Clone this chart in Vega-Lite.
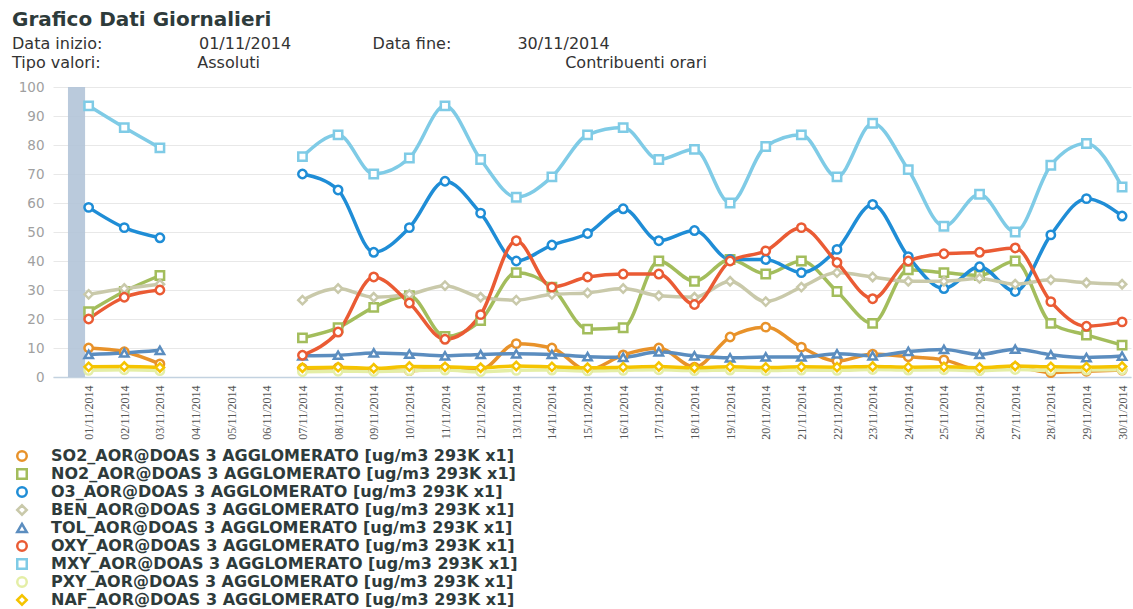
{
"$schema":"https://vega.github.io/schema/vega-lite/v6.json",
"width":1078,"height":290,
"autosize":{"type":"none"},
"padding":{"left":53,"top":87,"right":2,"bottom":232},
"background":"white",
"config":{"view":{"stroke":null}},
"title":{"text":"Grafico Dati Giornalieri",
"subtitle":["Data inizio:\u00a0\u00a0\u00a0\u00a0\u00a0\u00a0\u00a0\u00a0\u00a0\u00a0\u00a0\u00a0\u00a0\u00a0\u00a0\u00a0\u00a0\u00a0\u00a001/11/2014\u00a0\u00a0\u00a0\u00a0\u00a0\u00a0\u00a0\u00a0\u00a0\u00a0\u00a0\u00a0\u00a0\u00a0\u00a0\u00a0Data fine:\u00a0\u00a0\u00a0\u00a0\u00a0\u00a0\u00a0\u00a0\u00a0\u00a0\u00a0\u00a0\u00a030/11/2014","Tipo valori:\u00a0\u00a0\u00a0\u00a0\u00a0\u00a0\u00a0\u00a0\u00a0\u00a0\u00a0\u00a0\u00a0\u00a0\u00a0\u00a0\u00a0\u00a0\u00a0Assoluti\u00a0\u00a0\u00a0\u00a0\u00a0\u00a0\u00a0\u00a0\u00a0\u00a0\u00a0\u00a0\u00a0\u00a0\u00a0\u00a0\u00a0\u00a0\u00a0\u00a0\u00a0\u00a0\u00a0\u00a0\u00a0\u00a0\u00a0\u00a0\u00a0\u00a0\u00a0\u00a0\u00a0\u00a0\u00a0\u00a0\u00a0\u00a0\u00a0\u00a0\u00a0\u00a0\u00a0\u00a0\u00a0\u00a0\u00a0\u00a0\u00a0\u00a0\u00a0\u00a0\u00a0\u00a0\u00a0\u00a0\u00a0\u00a0\u00a0\u00a0Contribuenti orari"],
"anchor":"start","frame":"group","dx":-41,"offset":9,
"font":"DejaVu Sans","fontSize":20,"fontWeight":"bold","color":"#2e3b3b",
"subtitleFont":"DejaVu Sans","subtitleFontSize":16,"subtitleColor":"#333333","subtitlePadding":6,"subtitleLineHeight":19},
"data":{"values":[
{"g":1,"s":"SO2","v":10},{"g":2,"s":"SO2","v":8.7},{"g":3,"s":"SO2","v":4.5},{"g":5,"s":"SO2","v":null},{"g":7,"s":"SO2","v":3},{"g":8,"s":"SO2","v":3.2},{"g":9,"s":"SO2","v":2.4},{"g":10,"s":"SO2","v":2.2},{"g":11,"s":"SO2","v":3},{"g":12,"s":"SO2","v":2.6},{"g":13,"s":"SO2","v":11.5},{"g":14,"s":"SO2","v":10},{"g":15,"s":"SO2","v":2.4},{"g":16,"s":"SO2","v":7.6},{"g":17,"s":"SO2","v":10},{"g":18,"s":"SO2","v":3.4},{"g":19,"s":"SO2","v":13.8},{"g":20,"s":"SO2","v":17.2},{"g":21,"s":"SO2","v":10.3},{"g":22,"s":"SO2","v":5.5},{"g":23,"s":"SO2","v":7.9},{"g":24,"s":"SO2","v":7},{"g":25,"s":"SO2","v":5.9},{"g":26,"s":"SO2","v":2.4},{"g":27,"s":"SO2","v":3.4},{"g":28,"s":"SO2","v":1.5},{"g":29,"s":"SO2","v":2},{"g":30,"s":"SO2","v":2.4},
{"g":1,"s":"NO2","v":22.5},{"g":2,"s":"NO2","v":29.5},{"g":3,"s":"NO2","v":35},{"g":5,"s":"NO2","v":null},{"g":7,"s":"NO2","v":13.5},{"g":8,"s":"NO2","v":17},{"g":9,"s":"NO2","v":24},{"g":10,"s":"NO2","v":28},{"g":11,"s":"NO2","v":14},{"g":12,"s":"NO2","v":19.5},{"g":13,"s":"NO2","v":36},{"g":14,"s":"NO2","v":31},{"g":15,"s":"NO2","v":16.5},{"g":16,"s":"NO2","v":17},{"g":17,"s":"NO2","v":40},{"g":18,"s":"NO2","v":33},{"g":19,"s":"NO2","v":40.5},{"g":20,"s":"NO2","v":35.5},{"g":21,"s":"NO2","v":40},{"g":22,"s":"NO2","v":29.5},{"g":23,"s":"NO2","v":18.5},{"g":24,"s":"NO2","v":37},{"g":25,"s":"NO2","v":36},{"g":26,"s":"NO2","v":35},{"g":27,"s":"NO2","v":40},{"g":28,"s":"NO2","v":18.5},{"g":29,"s":"NO2","v":14.5},{"g":30,"s":"NO2","v":11},
{"g":1,"s":"O3","v":58.5},{"g":2,"s":"O3","v":51.5},{"g":3,"s":"O3","v":48},{"g":5,"s":"O3","v":null},{"g":7,"s":"O3","v":70},{"g":8,"s":"O3","v":64.5},{"g":9,"s":"O3","v":43},{"g":10,"s":"O3","v":51.5},{"g":11,"s":"O3","v":67.5},{"g":12,"s":"O3","v":56.5},{"g":13,"s":"O3","v":40},{"g":14,"s":"O3","v":45.5},{"g":15,"s":"O3","v":49.5},{"g":16,"s":"O3","v":58},{"g":17,"s":"O3","v":47},{"g":18,"s":"O3","v":50.5},{"g":19,"s":"O3","v":40.5},{"g":20,"s":"O3","v":40.5},{"g":21,"s":"O3","v":36},{"g":22,"s":"O3","v":44},{"g":23,"s":"O3","v":59.5},{"g":24,"s":"O3","v":41.5},{"g":25,"s":"O3","v":30.5},{"g":26,"s":"O3","v":38},{"g":27,"s":"O3","v":29.5},{"g":28,"s":"O3","v":49},{"g":29,"s":"O3","v":61.5},{"g":30,"s":"O3","v":55.5},
{"g":1,"s":"BEN","v":28.5},{"g":2,"s":"BEN","v":30.5},{"g":3,"s":"BEN","v":32},{"g":5,"s":"BEN","v":null},{"g":7,"s":"BEN","v":26.5},{"g":8,"s":"BEN","v":30.5},{"g":9,"s":"BEN","v":27.5},{"g":10,"s":"BEN","v":28.5},{"g":11,"s":"BEN","v":31.5},{"g":12,"s":"BEN","v":27.5},{"g":13,"s":"BEN","v":26.5},{"g":14,"s":"BEN","v":28.5},{"g":15,"s":"BEN","v":29},{"g":16,"s":"BEN","v":30.5},{"g":17,"s":"BEN","v":28},{"g":18,"s":"BEN","v":27.5},{"g":19,"s":"BEN","v":33},{"g":20,"s":"BEN","v":26},{"g":21,"s":"BEN","v":31},{"g":22,"s":"BEN","v":36},{"g":23,"s":"BEN","v":34.5},{"g":24,"s":"BEN","v":33},{"g":25,"s":"BEN","v":33},{"g":26,"s":"BEN","v":34},{"g":27,"s":"BEN","v":32},{"g":28,"s":"BEN","v":33.5},{"g":29,"s":"BEN","v":32.5},{"g":30,"s":"BEN","v":32},
{"g":1,"s":"TOL","v":7.8},{"g":2,"s":"TOL","v":8.3},{"g":3,"s":"TOL","v":9.2},{"g":5,"s":"TOL","v":null},{"g":7,"s":"TOL","v":7.3},{"g":8,"s":"TOL","v":7.5},{"g":9,"s":"TOL","v":8.3},{"g":10,"s":"TOL","v":7.9},{"g":11,"s":"TOL","v":7.3},{"g":12,"s":"TOL","v":7.8},{"g":13,"s":"TOL","v":8},{"g":14,"s":"TOL","v":7.8},{"g":15,"s":"TOL","v":7},{"g":16,"s":"TOL","v":6.8},{"g":17,"s":"TOL","v":8.7},{"g":18,"s":"TOL","v":7.3},{"g":19,"s":"TOL","v":6.6},{"g":20,"s":"TOL","v":6.9},{"g":21,"s":"TOL","v":6.9},{"g":22,"s":"TOL","v":8},{"g":23,"s":"TOL","v":7.3},{"g":24,"s":"TOL","v":8.8},{"g":25,"s":"TOL","v":9.5},{"g":26,"s":"TOL","v":7.8},{"g":27,"s":"TOL","v":9.6},{"g":28,"s":"TOL","v":7.7},{"g":29,"s":"TOL","v":6.7},{"g":30,"s":"TOL","v":7.2},
{"g":1,"s":"OXY","v":20},{"g":2,"s":"OXY","v":27.5},{"g":3,"s":"OXY","v":30},{"g":5,"s":"OXY","v":null},{"g":7,"s":"OXY","v":7.5},{"g":8,"s":"OXY","v":15.5},{"g":9,"s":"OXY","v":34.5},{"g":10,"s":"OXY","v":25.5},{"g":11,"s":"OXY","v":13},{"g":12,"s":"OXY","v":21.5},{"g":13,"s":"OXY","v":47},{"g":14,"s":"OXY","v":31},{"g":15,"s":"OXY","v":34.5},{"g":16,"s":"OXY","v":35.5},{"g":17,"s":"OXY","v":35.5},{"g":18,"s":"OXY","v":25},{"g":19,"s":"OXY","v":40},{"g":20,"s":"OXY","v":43.5},{"g":21,"s":"OXY","v":51.5},{"g":22,"s":"OXY","v":39.5},{"g":23,"s":"OXY","v":27},{"g":24,"s":"OXY","v":40},{"g":25,"s":"OXY","v":42.5},{"g":26,"s":"OXY","v":43},{"g":27,"s":"OXY","v":44.5},{"g":28,"s":"OXY","v":26},{"g":29,"s":"OXY","v":17.5},{"g":30,"s":"OXY","v":19},
{"g":1,"s":"MXY","v":93.5},{"g":2,"s":"MXY","v":86},{"g":3,"s":"MXY","v":79},{"g":5,"s":"MXY","v":null},{"g":7,"s":"MXY","v":76},{"g":8,"s":"MXY","v":83.5},{"g":9,"s":"MXY","v":70},{"g":10,"s":"MXY","v":75.5},{"g":11,"s":"MXY","v":93.5},{"g":12,"s":"MXY","v":75},{"g":13,"s":"MXY","v":62},{"g":14,"s":"MXY","v":69},{"g":15,"s":"MXY","v":83.5},{"g":16,"s":"MXY","v":86},{"g":17,"s":"MXY","v":75},{"g":18,"s":"MXY","v":78.5},{"g":19,"s":"MXY","v":60},{"g":20,"s":"MXY","v":79.5},{"g":21,"s":"MXY","v":83.5},{"g":22,"s":"MXY","v":69},{"g":23,"s":"MXY","v":87.5},{"g":24,"s":"MXY","v":71.5},{"g":25,"s":"MXY","v":52},{"g":26,"s":"MXY","v":63},{"g":27,"s":"MXY","v":50},{"g":28,"s":"MXY","v":73},{"g":29,"s":"MXY","v":80.5},{"g":30,"s":"MXY","v":65.5},
{"g":1,"s":"PXY","v":2.3},{"g":2,"s":"PXY","v":2.5},{"g":3,"s":"PXY","v":2.2},{"g":5,"s":"PXY","v":null},{"g":7,"s":"PXY","v":1.8},{"g":8,"s":"PXY","v":2},{"g":9,"s":"PXY","v":1.9},{"g":10,"s":"PXY","v":2.2},{"g":11,"s":"PXY","v":2.4},{"g":12,"s":"PXY","v":1.8},{"g":13,"s":"PXY","v":2.3},{"g":14,"s":"PXY","v":2.4},{"g":15,"s":"PXY","v":2.1},{"g":16,"s":"PXY","v":2.3},{"g":17,"s":"PXY","v":2.5},{"g":18,"s":"PXY","v":2.2},{"g":19,"s":"PXY","v":2.4},{"g":20,"s":"PXY","v":2.2},{"g":21,"s":"PXY","v":2.4},{"g":22,"s":"PXY","v":2.3},{"g":23,"s":"PXY","v":2.6},{"g":24,"s":"PXY","v":2.4},{"g":25,"s":"PXY","v":2.5},{"g":26,"s":"PXY","v":2.2},{"g":27,"s":"PXY","v":2.6},{"g":28,"s":"PXY","v":2.3},{"g":29,"s":"PXY","v":2.4},{"g":30,"s":"PXY","v":2.5},
{"g":1,"s":"NAF","v":3.5},{"g":2,"s":"NAF","v":3.6},{"g":3,"s":"NAF","v":3.3},{"g":5,"s":"NAF","v":null},{"g":7,"s":"NAF","v":3.2},{"g":8,"s":"NAF","v":3.4},{"g":9,"s":"NAF","v":3},{"g":10,"s":"NAF","v":3.6},{"g":11,"s":"NAF","v":3.5},{"g":12,"s":"NAF","v":3.2},{"g":13,"s":"NAF","v":3.8},{"g":14,"s":"NAF","v":3.5},{"g":15,"s":"NAF","v":3.2},{"g":16,"s":"NAF","v":3.4},{"g":17,"s":"NAF","v":3.6},{"g":18,"s":"NAF","v":3.2},{"g":19,"s":"NAF","v":3.5},{"g":20,"s":"NAF","v":3.3},{"g":21,"s":"NAF","v":3.5},{"g":22,"s":"NAF","v":3.4},{"g":23,"s":"NAF","v":3.6},{"g":24,"s":"NAF","v":3.4},{"g":25,"s":"NAF","v":3.5},{"g":26,"s":"NAF","v":3.2},{"g":27,"s":"NAF","v":3.8},{"g":28,"s":"NAF","v":3.5},{"g":29,"s":"NAF","v":3.4},{"g":30,"s":"NAF","v":3.6}
]},
"encoding":{
 "x":{"field":"g","type":"quantitative","scale":{"domain":[0,30.25],"nice":false,"zero":false},
  "axis":{"values":[1,2,3,4,5,6,7,8,9,10,11,12,13,14,15,16,17,18,19,20,21,22,23,24,25,26,27,28,29,30],
   "labelExpr":"(datum.value < 10 ? '0' : '') + datum.value + '/11/2014'","labelAngle":270,"labelAlign":"right","labelBaseline":"middle",
   "labelFont":"Liberation Sans Narrow","labelFontSize":12,"labelColor":"#555555","labelOverlap":false,"labelFlush":false,"labelPadding":8,
   "ticks":false,"grid":false,"domainColor":"#c3d2e0","domainWidth":1.5,"title":null}},
 "color":{"field":"s","type":"nominal",
  "scale":{"domain":["SO2","NO2","O3","BEN","TOL","OXY","MXY","PXY","NAF"],"range":["#e8922a","#a3bd5c","#1f8dd6","#c9c9aa","#5b8dbf","#ea5b34","#7fcbe6","#e4eea6","#f5c400"]},
  "legend":{"orient":"none","legendX":-39,"legendY":361,"direction":"vertical","title":null,
   "labelExpr":"datum.label + '_AOR@DOAS 3 AGGLOMERATO [ug/m3 293K x1]'",
   "labelFont":"DejaVu Sans","labelFontWeight":"bold","labelFontSize":16,"labelColor":"#2e3b3b","labelLimit":0,"labelOffset":21,
   "symbolSize":90,"symbolStrokeWidth":2.5,"symbolFillColor":"white","rowPadding":-3.75}}
},
"layer":[
{"data":{"values":[{"g":0.42,"g2":0.9}]},
 "mark":{"type":"rect","opacity":0.9},
 "encoding":{"x2":{"field":"g2"},"color":{"value":"#b3c4d8"}}},
{"mark":{"type":"line","interpolate":"monotone","strokeWidth":3.5},
 "encoding":{
  "y":{"field":"v","type":"quantitative","scale":{"domain":[0,100],"nice":false},
   "axis":{"values":[0,10,20,30,40,50,60,70,80,90,100],"title":null,"domain":false,"ticks":false,"gridColor":"#e8e8e8","labelOverlap":false,
    "labelFont":"DejaVu Sans","labelFontSize":13.5,"labelColor":"#a0a0a0","labelPadding":9}}}},
{"mark":{"type":"point","filled":false,"fill":"white","strokeWidth":2.5,"size":70,"opacity":1},
 "encoding":{
  "y":{"field":"v","type":"quantitative","scale":{"domain":[0,100],"nice":false},
   "axis":{"values":[0,10,20,30,40,50,60,70,80,90,100],"title":null,"domain":false,"ticks":false,"gridColor":"#e8e8e8","labelOverlap":false,
    "labelFont":"DejaVu Sans","labelFontSize":13.5,"labelColor":"#a0a0a0","labelPadding":9}},
  "shape":{"field":"s","type":"nominal",
   "scale":{"domain":["SO2","NO2","O3","BEN","TOL","OXY","MXY","PXY","NAF"],"range":["circle","square","circle","diamond","triangle-up","circle","square","circle","diamond"]}}}}
]
}
